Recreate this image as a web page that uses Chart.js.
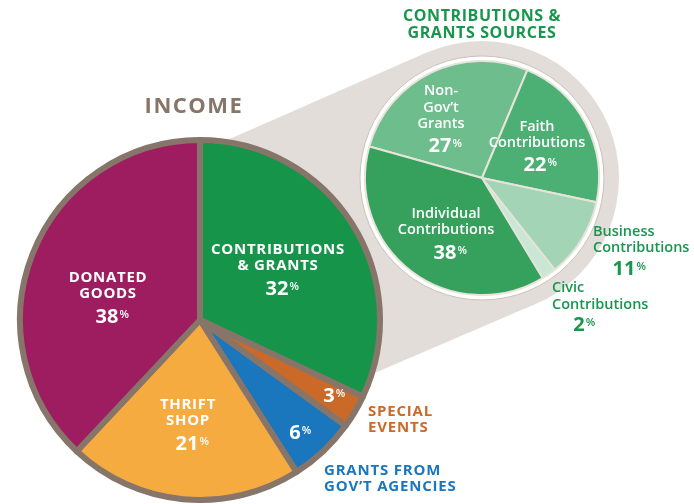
<!DOCTYPE html>
<html>
<head>
<meta charset="utf-8">
<script src="https://cdn.jsdelivr.net/npm/chart.js@4.4.1/dist/chart.umd.min.js"></script>
<style>
html, body { margin: 0; padding: 0; background: #fff; }
#wrap { position: relative; width: 694px; height: 504px; }
#wrap canvas { position: absolute; left: 0; top: 0; }
</style>
</head>
<body>
<div id="wrap">
  <canvas id="sourcesChart" width="694" height="504"></canvas>
  <canvas id="incomeChart" width="694" height="504"></canvas>
</div>
<script>
// income split (clockwise from 12 o'clock)
const incomeCategories = ['Contributions & Grants', 'Special Events', 'Grants from Gov\u2019t Agencies', 'Thrift Shop', 'Donated Goods'];
const incomeValues = [32, 3, 6, 21, 38];

// contributions & grants sources
const sourceCategories = ['Non-Gov\u2019t Grants', 'Faith Contributions', 'Business Contributions', 'Civic Contributions', 'Individual Contributions'];
const sourceValues = [27, 22, 11, 2, 38];

const incomeColors = ['#16954a', '#cb6a28', '#1b77bd', '#f5ab40', '#9e1c60'];
const sourceColors = ['#6dbd8d', '#4caf73', '#a4d4b6', '#c9e7d4', '#35a15c'];

const FONT = '"Open Sans", "DejaVu Sans", sans-serif';
const BROWN = '#87756a';
const GREEN = '#17964c';

// label placement for each slice (same order as the data)
const incomeLabelSpots = [
    { lines: ['CONTRIBUTIONS', '& GRANTS'], x: 278, ys: [249, 265], pctX: 277, pctY: 288 },
    { lines: [], pctX: 329, pctY: 395 },
    { lines: [], pctX: 295, pctY: 432 },
    { lines: ['THRIFT', 'SHOP'], x: 188, ys: [404, 420], pctX: 187, pctY: 443 },
    { lines: ['DONATED', 'GOODS'], x: 108, ys: [277, 293], pctX: 107, pctY: 316 }
];
const sourceLabelSpots = [
    { lines: ['Non-', 'Gov\u2019t', 'Grants'], x: 441, ys: [90, 107, 123], pctX: 440, pctY: 145, color: '#fff' },
    { lines: ['Faith', 'Contributions'], x: 537, ys: [126, 142], pctX: 535, pctY: 164, color: '#fff' },
    { lines: ['Business', 'Contributions'], x: 593, ys: [231, 247], align: 'left', pctX: 624, pctY: 268, color: GREEN },
    { lines: ['Civic', 'Contributions'], x: 552, ys: [287, 304], align: 'left', pctX: 579, pctY: 324, color: GREEN },
    { lines: ['Individual', 'Contributions'], x: 446, ys: [213, 229], pctX: 445, pctY: 252, color: '#fff' }
];

// text with its cap height centred on y
function capText(ctx, text, x, y, size, weight, color, align, spacing) {
    ctx.font = weight + ' ' + size + 'px ' + FONT;
    ctx.letterSpacing = (spacing || 0) + 'px';
    ctx.fillStyle = color;
    ctx.textAlign = align || 'center';
    ctx.textBaseline = 'alphabetic';
    ctx.fillText(text, x, y + 0.357 * size);
    ctx.letterSpacing = '0px';
}

// number centred on x with a small raised percent sign after it
function pctText(ctx, value, x, y, size, color) {
    const pctSize = Math.round(size * 0.55);
    ctx.font = '700 ' + size + 'px ' + FONT;
    const w = ctx.measureText(String(value)).width;
    capText(ctx, String(value), x, y, size, 700, color);
    ctx.font = '600 ' + pctSize + 'px ' + FONT;
    ctx.fillStyle = color;
    ctx.textAlign = 'left';
    ctx.fillText('%', x + w / 2 + 1, y - 0.357 * size + 0.714 * pctSize + 1);
}

// grey funnel behind the small pie
const backdrop = {
    id: 'backdrop',
    beforeDatasetsDraw(chart) {
        const ctx = chart.ctx;
        const arc = chart.getDatasetMeta(0).data[0];
        const cx = arc.x, cy = arc.y, r = arc.outerRadius;
        const R = r + 20;
        ctx.save();
        ctx.fillStyle = '#e2ddd9';
        ctx.beginPath();
        ctx.moveTo(200, 152);
        ctx.lineTo(cx - 0.4 * R, cy - 0.917 * R);
        ctx.lineTo(cx + 0.39 * R, cy + 0.92 * R);
        ctx.lineTo(200, 448);
        ctx.closePath();
        ctx.fill();
        ctx.beginPath();
        ctx.arc(cx, cy, R, 0, Math.PI * 2);
        ctx.fill();
        ctx.fillStyle = '#fff';
        ctx.beginPath();
        ctx.arc(cx, cy, r + 5, 0, Math.PI * 2);
        ctx.fill();
        ctx.strokeStyle = '#cdc2b8';
        ctx.lineWidth = 1;
        ctx.stroke();
        ctx.restore();
    },
    afterDraw(chart) {
        const ctx = chart.ctx;
        ctx.save();
        capText(ctx, 'CONTRIBUTIONS &', 482, 15, 16, 700, GREEN, 'center', 0.6);
        capText(ctx, 'GRANTS SOURCES', 482, 32, 16, 700, GREEN, 'center', 0.6);
        sourceLabelSpots.forEach((s, i) => {
            s.lines.forEach((t, j) => capText(ctx, t, s.x, s.ys[j], 14.5, 600, s.color, s.align));
            pctText(ctx, sourceValues[i], s.pctX, s.pctY, 20, s.color);
        });
        ctx.restore();
    }
};

const incomeLabels = {
    id: 'incomeLabels',
    afterDraw(chart) {
        const ctx = chart.ctx;
        ctx.save();
        capText(ctx, 'INCOME', 194, 105, 22, 700, BROWN, 'center', 1.5);
        incomeLabelSpots.forEach((s, i) => {
            s.lines.forEach((t, j) => capText(ctx, t, s.x, s.ys[j], 15, 700, '#fff', 'center', 0.7));
            pctText(ctx, incomeValues[i], s.pctX, s.pctY, 20, '#fff');
        });
        capText(ctx, 'SPECIAL', 368, 411, 15, 700, '#cb6a28', 'left', 0.8);
        capText(ctx, 'EVENTS', 368, 427, 15, 700, '#cb6a28', 'left', 0.8);
        capText(ctx, 'GRANTS FROM', 324, 470, 15, 700, '#1b77bd', 'left', 0.8);
        capText(ctx, 'GOV\u2019T AGENCIES', 324, 486, 15, 700, '#1b77bd', 'left', 0.8);
        ctx.restore();
    }
};

const quiet = { legend: { display: false }, tooltip: { enabled: false } };

new Chart(document.getElementById('sourcesChart'), {
    type: 'pie',
    data: {
        labels: sourceCategories,
        datasets: [{
            data: sourceValues,
            backgroundColor: sourceColors,
            borderColor: '#e6e4da',
            borderWidth: 2,
            radius: 117
        }]
    },
    options: {
        responsive: false,
        animation: false,
        events: [],
        rotation: 285.6,
        layout: { padding: { left: 282, right: 12, top: 0, bottom: 148 } },
        plugins: quiet
    },
    plugins: [backdrop]
});

new Chart(document.getElementById('incomeChart'), {
    type: 'pie',
    data: {
        labels: incomeCategories,
        datasets: [{
            data: incomeValues,
            backgroundColor: incomeColors,
            borderColor: BROWN,
            borderWidth: 6,
            borderJoinStyle: 'round',
            radius: 180
        }]
    },
    options: {
        responsive: false,
        animation: false,
        events: [],
        layout: { padding: { left: 0, right: 294, top: 136, bottom: 0 } },
        plugins: quiet
    },
    plugins: [incomeLabels]
});
</script>
</body>
</html>
